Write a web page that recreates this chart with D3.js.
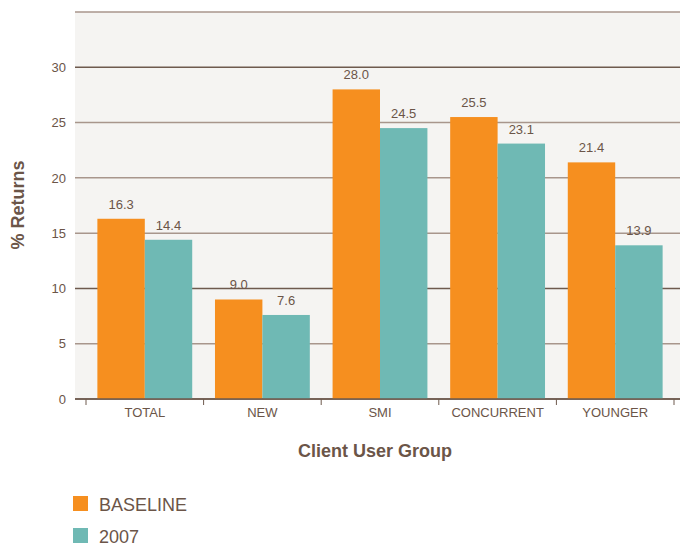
<!DOCTYPE html>
<html><head><meta charset="utf-8">
<script src="https://cdn.jsdelivr.net/npm/d3@7"></script>
<style>body{margin:0;background:#fff;font-family:"Liberation Sans",Arial,sans-serif}</style>
</head><body><svg id="c" width="680" height="546"></svg>
<script>
const categories = ["TOTAL","NEW","SMI","CONCURRENT","YOUNGER"];
const seriesNames = ["BASELINE","2007"];
const baseline = [16.3, 9.0, 28.0, 25.5, 21.4];
const y2007 = [14.4, 7.6, 24.5, 23.1, 13.9];
const yTicks = [0,5,10,15,20,25,30];
const colors = ["#f68f1f","#6fb9b4"];
const txt = "#6b5548";

const svg = d3.select("#c");
const x = d3.scaleBand().domain(categories).range([86,674]);
const xs = d3.scaleBand().domain(seriesNames).range([0,x.bandwidth()]).paddingOuter(0.24).paddingInner(0);
const y = d3.scaleLinear().domain([0,35]).range([399,12]);

svg.append("rect").attr("x",75).attr("y",y(35)).attr("width",605).attr("height",y(0)-y(35)).attr("fill","#f5f4f2");

const grid = d3.range(0,36,5);
svg.selectAll(".g").data(grid).enter().append("line")
  .attr("x1",75).attr("x2",680).attr("y1",d=>y(d)).attr("y2",d=>y(d))
  .attr("stroke",d=>(d%10===0 && d!==20)?"#6e5a4e":"#a8968c").attr("stroke-width",1.5);

const yAxis = svg.append("g").attr("transform","translate(75,0)")
  .call(d3.axisLeft(y).tickValues(yTicks).tickSize(0).tickPadding(9));
yAxis.select(".domain").remove();
yAxis.selectAll("text").attr("fill",txt).attr("font-size",13).attr("font-family","Liberation Sans, Arial");

const xAxis = svg.append("g").attr("transform","translate(0,399)")
  .call(d3.axisBottom(x).tickSize(0).tickPadding(9));
xAxis.select(".domain").remove();
xAxis.selectAll("text").attr("fill",txt).attr("font-size",13).attr("font-family","Liberation Sans, Arial");
const bounds = categories.map(c=>x(c)).concat([x.range()[1]]);
svg.selectAll(".bt").data(bounds).enter().append("line")
  .attr("x1",d=>d).attr("x2",d=>d).attr("y1",399).attr("y2",405).attr("stroke","#6e5a4e").attr("stroke-width",1);

const data = categories.map((c,i)=>({c, vals:[baseline[i], y2007[i]]}));
const gr = svg.selectAll(".grp").data(data).enter().append("g").attr("transform",d=>`translate(${x(d.c)},0)`);
gr.selectAll("rect").data(d=>d.vals.map((v,j)=>({v,s:seriesNames[j],j}))).enter().append("rect")
  .attr("x",d=>xs(d.s)).attr("width",xs.bandwidth()).attr("y",d=>y(d.v)).attr("height",d=>y(0)-y(d.v))
  .attr("fill",d=>colors[d.j]);
gr.selectAll("text").data(d=>d.vals.map((v,j)=>({v,s:seriesNames[j],j}))).enter().append("text")
  .attr("x",d=>xs(d.s)+xs.bandwidth()/2).attr("y",d=>y(d.v)-10).attr("text-anchor","middle")
  .attr("fill",txt).attr("font-size",13).text(d=>d.v.toFixed(1));

svg.append("line").attr("x1",75).attr("x2",680).attr("y1",y(0)).attr("y2",y(0)).attr("stroke","#6e5a4e").attr("stroke-width",1.5);

svg.append("text").attr("x",375).attr("y",457).attr("text-anchor","middle").attr("fill",txt)
  .attr("font-size",18).attr("font-weight","bold").text("Client User Group");
svg.append("text").attr("transform","translate(24,205) rotate(-90)").attr("text-anchor","middle").attr("fill",txt)
  .attr("font-size",18).attr("font-weight","bold").text("% Returns");

const leg = svg.selectAll(".leg").data(seriesNames).enter().append("g")
  .attr("transform",(d,i)=>`translate(73,${496+i*32})`);
leg.append("rect").attr("width",15).attr("height",15).attr("fill",(d,i)=>colors[i]);
leg.append("text").attr("x",26).attr("y",14.5).attr("fill",txt).attr("font-size",18).text(d=>d);
</script></body></html>
